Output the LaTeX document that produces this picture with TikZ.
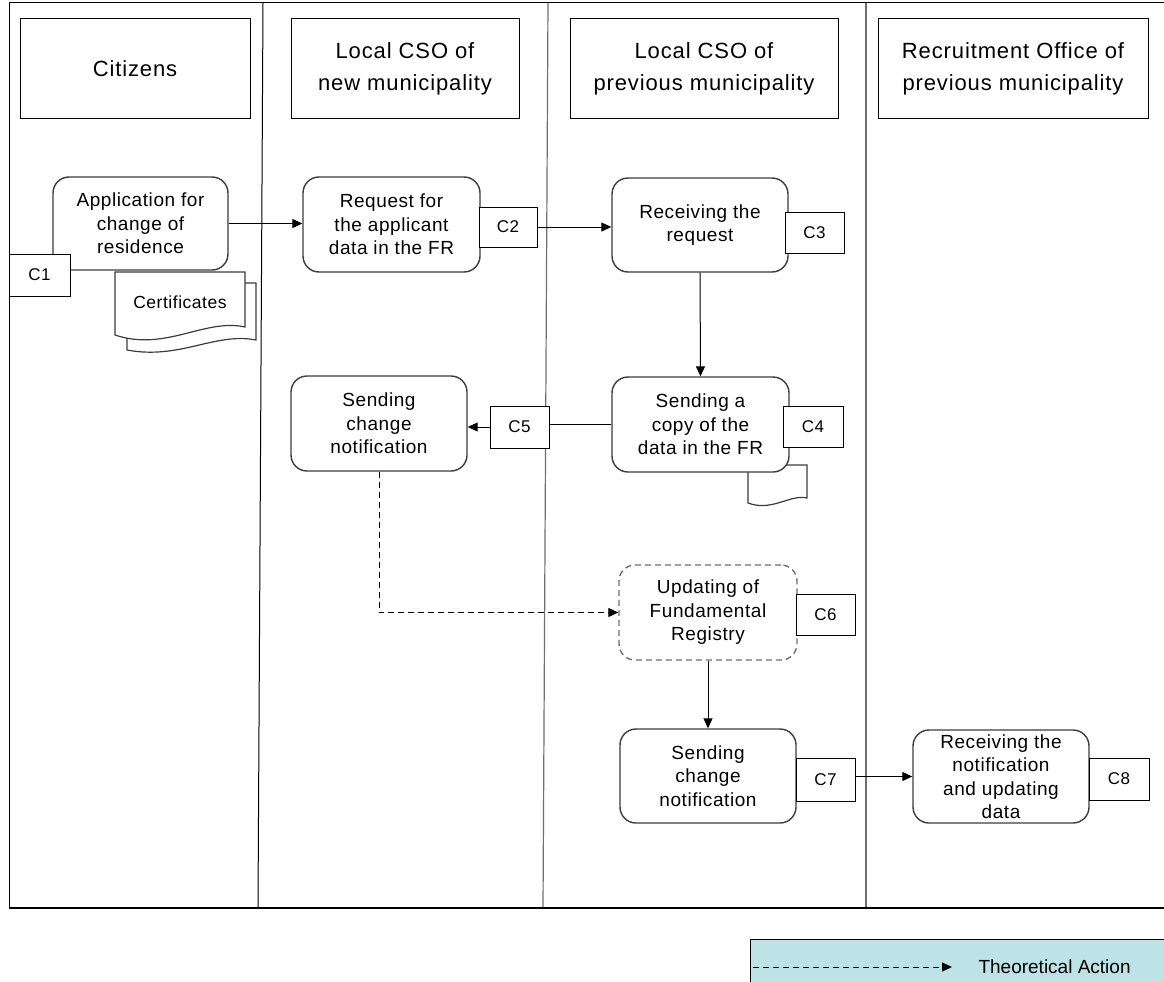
\documentclass[tikz,border=0pt]{standalone}
\usepackage{fontspec}
\setmainfont{Liberation Sans}
\newfontfamily\hfont[LetterSpace=4]{Liberation Sans}
\newfontfamily\nfont[LetterSpace=3]{Liberation Sans}
\usetikzlibrary{arrows.meta}
\definecolor{boxline}{RGB}{60,60,60}
\definecolor{lanegray}{RGB}{110,110,110}
\definecolor{legendfill}{RGB}{190,227,230}
\tikzset{
  header/.style={draw=black, line width=1pt, fill=white, align=center, inner sep=0pt,
    font=\hfont\fontsize{22}{32}\selectfont},
  task/.style={draw=boxline, line width=1.4pt, fill=white, rounded corners=16pt, align=center,
    inner sep=0pt, font=\nfont\fontsize{19}{23.5}\selectfont},
  theo/.style={task, draw=lanegray, dashed, dash pattern=on 6pt off 4pt},
  cbox/.style={draw=black, line width=1pt, fill=white, inner sep=0pt, minimum width=59pt,
    minimum height=41pt, font=\nfont\fontsize{17}{20}\selectfont},
  docshape/.style={draw=boxline, line width=1.2pt, fill=white},
  arr/.style={line width=1pt, -{Triangle[length=10pt,width=9pt]}},
  plain/.style={line width=1pt},
  theoarr/.style={arr, dashed, dash pattern=on 6pt off 4pt}
}
\begin{document}
\begin{tikzpicture}[x=1pt,y=-1pt]
\useasboundingbox (0,0) rectangle (1164,982);
% frame and lanes
\draw[line width=1pt] (1170,3) -- (9,3) -- (9,907) -- (1170,907);
\draw[line width=1.6pt] (9,908) -- (1170,908);
\draw[line width=1pt] (263,3) -- (258,907);
\draw[line width=1.2pt, lanegray] (548,3) -- (543,907);
\draw[line width=1.2pt, lanegray] (866,3) -- (866,907);
% headers
\node[header, minimum width=230pt, minimum height=99pt] (hcit) at (135,68.5) {Citizens};
\node[header, minimum width=228pt, minimum height=99pt] (hnew) at (405,68.5) {Local CSO of\\new municipality};
\node[header, minimum width=268pt, minimum height=99pt] (hprev) at (704,68.5) {Local CSO of\\previous municipality};
\node[header, minimum width=270pt, minimum height=99pt] (hrec) at (1013,68.5) {Recruitment Office of\\previous municipality};
% citizens lane
\node[task, minimum width=175pt, minimum height=93pt] (app) at (140.5,223.5) {Application for\\change of\\residence};
\draw[docshape] (127,283) -- (256,283) -- (256,340) .. controls (215,332) and (180,360) .. (127,350) -- cycle;
\draw[docshape] (115,272) -- (245,272) -- (245,327) .. controls (205,318) and (165,352) .. (115,335) -- cycle;
\node[font=\nfont\fontsize{17.5}{20}\selectfont] (cert) at (180,302) {Certificates};
\node[cbox, minimum width=61pt, minimum height=42pt] (c1) at (39.5,275) {C1};
% new municipality lane
\node[task, minimum width=177pt, minimum height=95pt] (req) at (391.5,224.5) {Request for\\the applicant\\data in the FR};
\node[cbox, minimum width=58pt, minimum height=40pt] (c2) at (508,227) {C2};
\node[task, minimum width=176pt, minimum height=95pt] (sc) at (379,423.5) {Sending\\change\\notification};
\node[cbox, minimum height=42pt] (c5) at (519.5,427) {C5};
% previous municipality lane
\node[task, minimum width=176pt, minimum height=94pt] (recv) at (700,225) {Receiving the\\request};
\node[cbox] (c3) at (814.5,232.5) {C3};
\draw[docshape] (748,465) -- (807,465) -- (807,498) .. controls (790,494) and (772,512) .. (748,503) -- cycle;
\node[task, minimum width=177pt, minimum height=95pt] (copy) at (700.5,424.5) {Sending a\\copy of the\\data in the FR};
\node[cbox, minimum width=60pt] (c4) at (813,426.5) {C4};
\node[theo, minimum width=178pt, minimum height=95pt] (upd) at (708,612.5) {Updating of\\Fundamental\\Registry};
\node[cbox] (c6) at (825.5,614.5) {C6};
\node[task, minimum width=176pt, minimum height=94pt] (sc2) at (708,776) {Sending\\change\\notification};
\node[cbox, minimum height=43pt] (c7) at (825.5,779.5) {C7};
% recruitment lane
\node[task, minimum width=176pt, minimum height=93pt] (rn) at (1001,776.5) {Receiving the\\notification\\and updating\\data};
\node[cbox, minimum width=60pt, minimum height=42pt] (c8) at (1119,779) {C8};
% connectors
\draw[arr] (app.east) -- (app.east -| req.west);
\draw[arr] (c2.east) -- (c2.east -| recv.west);
\draw[arr] (recv.south) -- (copy.north);
\draw[plain] (copy.west) -- (copy.west -| c5.east);
\draw[arr] (c5.west) -- (c5.west -| sc.east);
\draw[theoarr] (sc.south) |- (upd.west);
\draw[arr] (upd.south) -- (sc2.north);
\draw[arr] (rn.west -| c7.east) -- (rn.west);
% legend
\fill[legendfill] (750,939) rectangle (1170,990);
\draw[line width=1pt] (750,990) -- (750,939) -- (1170,939);
\node[anchor=west, font=\fontsize{19}{22}\selectfont] (legtext) at (975,967) {Theoretical Action};
\coordinate (legstart) at (753,967);
\coordinate (legend) at (952,967);
\draw[theoarr] (legstart) -- (legend);
\end{tikzpicture}
\end{document}
